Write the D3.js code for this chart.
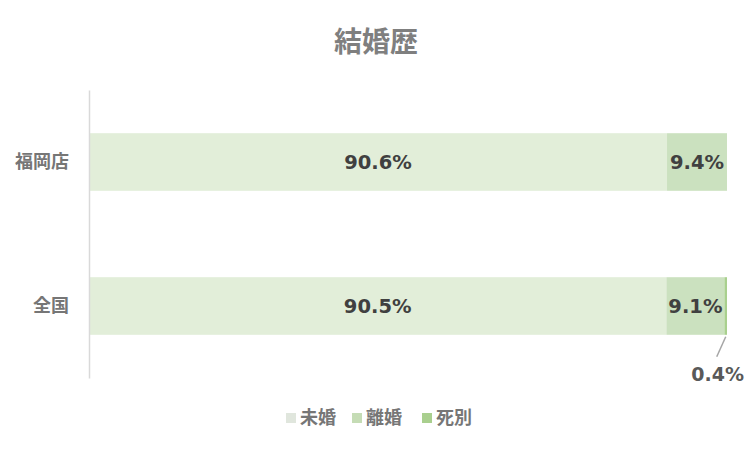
<!DOCTYPE html>
<html>
<head>
<meta charset="utf-8">
<script src="https://cdn.jsdelivr.net/npm/d3@7"></script>
<style>
  body { margin: 0; background: #fff; }
  svg { font-family: "Noto Sans CJK JP", "Noto Sans", sans-serif; }
</style>
</head>
<body>
<svg id="chart"></svg>
<script>
const categories = ['福岡店', '全国'];
const seriesNames = ['未婚', '離婚', '死別'];
const mikon = [90.6, 90.5];
const rikon = [9.4, 9.1];
const shibetsu = [0.0, 0.4];

const colors = ['#e2eed9', '#cbe1bf', '#a9d08e'];
const legendColors = ['#e0e6dd', '#c5dcb5', '#a9cf8e'];

const width = 750, height = 450;
const margin = { top: 90, right: 23, bottom: 72, left: 89 };

const svg = d3.select('#chart').attr('width', width).attr('height', height);

const rows = categories.map((c, i) => ({
  cat: c, '未婚': mikon[i], '離婚': rikon[i], '死別': shibetsu[i]
}));
const stacked = d3.stack().keys(seriesNames)(rows);

const x = d3.scaleLinear().domain([0, 100]).range([margin.left, width - margin.right]);
const y = d3.scaleBand().domain(categories)
  .range([margin.top, height - margin.bottom])
  .paddingInner(0.6).paddingOuter(0.3);

// title
svg.append('text')
  .attr('x', width / 2 + 1).attr('y', 52)
  .attr('text-anchor', 'middle')
  .attr('font-size', 28).attr('font-weight', 'bold')
  .attr('fill', '#7f7f7f')
  .text('結婚歴');

// bars
const layer = svg.append('g').selectAll('g')
  .data(stacked).enter().append('g')
  .attr('fill', (d, i) => colors[i]);

layer.selectAll('rect')
  .data(d => d.map(v => Object.assign({ key: d.key }, v)))
  .enter().append('rect')
  .attr('x', d => x(d[0]))
  .attr('y', d => y(d.data.cat))
  .attr('width', d => x(d[1]) - x(d[0]))
  .attr('height', y.bandwidth());

// axis
const yAxis = svg.append('g')
  .attr('transform', `translate(${margin.left},0)`)
  .call(d3.axisLeft(y).tickSize(0).tickPadding(20));
yAxis.select('.domain').attr('stroke', '#d9d9d9').attr('stroke-width', 1.5);
yAxis.selectAll('text')
  .attr('font-size', 18).attr('font-weight', 'bold')
  .attr('fill', '#767676')
  .attr('font-family', '"Noto Sans CJK JP", sans-serif');

// labels
const labels = [];
stacked.forEach(s => s.forEach(d => {
  const v = d[1] - d[0];
  if (v > 0) labels.push({ key: s.key, cat: d.data.cat, v, x0: d[0], x1: d[1] });
}));

labels.forEach(l => {
  const cy = y(l.cat) + y.bandwidth() / 2;
  if (l.v >= 1) {
    svg.append('text')
      .attr('x', (x(l.x0) + x(l.x1)) / 2)
      .attr('y', cy).attr('dy', '0.35em')
      .attr('text-anchor', 'middle')
      .attr('font-size', 19.5).attr('font-weight', 'bold')
      .attr('fill', '#404040')
      .attr('font-family', 'Verdana, "DejaVu Sans", sans-serif')
      .text(l.v.toFixed(1) + '%');
  } else {
    const xm = (x(l.x0) + x(l.x1)) / 2;
    const yb = y(l.cat) + y.bandwidth();
    svg.append('line')
      .attr('x1', xm).attr('y1', yb + 2)
      .attr('x2', xm - 9).attr('y2', yb + 22)
      .attr('stroke', '#a6a6a6').attr('stroke-width', 1.5);
    svg.append('text')
      .attr('x', xm - 8).attr('y', yb + 40).attr('dy', '0.35em')
      .attr('text-anchor', 'middle')
      .attr('font-size', 19).attr('font-weight', 'bold')
      .attr('fill', '#595959')
      .attr('font-family', 'Verdana, "DejaVu Sans", sans-serif')
      .text(l.v.toFixed(1) + '%');
  }
});

// legend
const legendX = [286, 352, 422];
const legend = svg.append('g').selectAll('g')
  .data(seriesNames).enter().append('g')
  .attr('transform', (d, i) => `translate(${legendX[i]},418)`);
legend.append('rect')
  .attr('x', 0).attr('y', -5).attr('width', 10).attr('height', 10)
  .attr('fill', (d, i) => legendColors[i]);
legend.append('text')
  .attr('x', 14).attr('dy', '0.35em')
  .attr('font-size', 18).attr('font-weight', 'bold')
  .attr('fill', '#767676')
  .text(d => d);
</script>
</body>
</html>
